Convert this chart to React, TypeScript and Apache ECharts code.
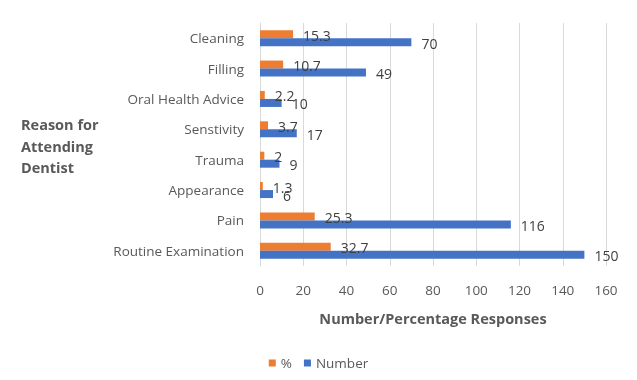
import React, { useEffect, useRef } from "react";
import * as echarts from "echarts";

const categories = [
  "Cleaning",
  "Filling",
  "Oral Health Advice",
  "Senstivity",
  "Trauma",
  "Appearance",
  "Pain",
  "Routine Examination",
];
const percentValues = [15.3, 10.7, 2.2, 3.7, 2, 1.3, 25.3, 32.7];
const numberValues = [70, 49, 10, 17, 9, 6, 116, 150];
const xTicks = { min: 0, max: 160, interval: 20 };

const FONT = "'Open Sans', 'Noto Sans', sans-serif";

export default function App() {
  const ref = useRef<HTMLDivElement>(null);
  useEffect(() => {
    if (!ref.current) return;
    const chart = echarts.init(ref.current, undefined, { renderer: "svg" });
    chart.setOption({
      animation: false,
      textStyle: { fontFamily: FONT },
      grid: { left: 260, right: 31, top: 23, bottom: 114, containLabel: false },
      legend: {
        top: 351,
        left: "center",
        icon: "rect",
        itemWidth: 7,
        itemHeight: 7,
        itemGap: 12,
        textStyle: { color: "#595959", fontSize: 13.5, fontFamily: FONT },
        data: ["%", "Number"],
      },
      graphic: [
        {
          type: "text",
          left: 21,
          top: 114,
          style: {
            text: "Reason for\nAttending\nDentist",
            fill: "#595959",
            font: `bold 14.5px ${FONT}`,
            align: "center",
            lineHeight: 21.5,
            width: 80,
          },
        },
      ],
      xAxis: {
        type: "value",
        min: xTicks.min,
        max: xTicks.max,
        interval: xTicks.interval,
        name: "Number/Percentage Responses",
        nameLocation: "middle",
        nameGap: 45,
        nameTextStyle: { color: "#595959", fontSize: 14.5, fontWeight: "bold", fontFamily: FONT },
        axisLine: { show: false },
        axisTick: { show: false },
        axisLabel: { color: "#595959", fontSize: 13.5, margin: 17, fontFamily: FONT },
        splitLine: { lineStyle: { color: "#d9d9d9", width: 1 } },
      },
      yAxis: {
        type: "category",
        data: categories,
        inverse: true,
        axisLine: { show: true, lineStyle: { color: "#d9d9d9" } },
        axisTick: { show: false },
        axisLabel: { color: "#595959", fontSize: 13.5, margin: 16, fontFamily: FONT },
      },
      series: [
        {
          name: "%",
          type: "bar",
          data: percentValues,
          barWidth: 8,
          barGap: "0%",
          itemStyle: { color: "#ED7D31" },
          label: {
            show: true,
            position: "right",
            distance: 10,
            offset: [0, 1],
            color: "#404040",
            fontSize: 14,
            fontFamily: FONT,
          },
        },
        {
          name: "Number",
          type: "bar",
          data: numberValues,
          barWidth: 8,
          barGap: "0%",
          itemStyle: { color: "#4472C4" },
          label: {
            show: true,
            position: "right",
            distance: 10,
            offset: [0, 1],
            color: "#404040",
            fontSize: 14,
            fontFamily: FONT,
          },
        },
      ],
    });
    return () => chart.dispose();
  }, []);
  return (
    <div
      ref={ref}
      style={{ position: "fixed", left: 0, top: 0, width: 637, height: 380 }}
    />
  );
}
